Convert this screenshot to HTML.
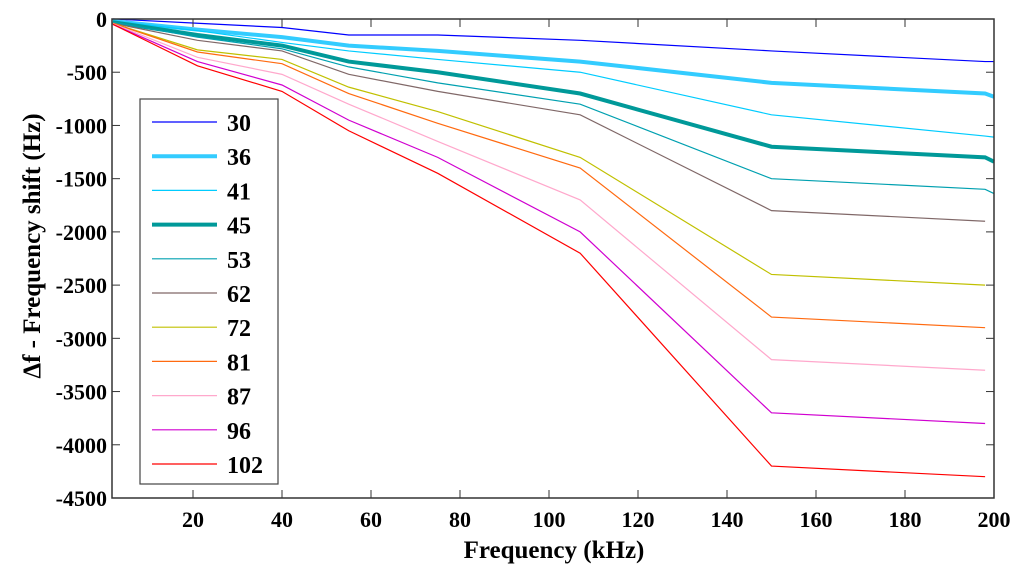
<!DOCTYPE html>
<html><head><meta charset="utf-8"><style>
body{margin:0;background:#fff;}
svg{font-family:"Liberation Serif",serif;font-weight:bold;}
</style></head><body>
<svg id="c" width="1024" height="575" viewBox="0 0 1024 575"></svg>
<script>
const freqs=[2,21,40,55,75,107,150,198,200];
const labels=["30","36","41","45","53","62","72","81","87","96","102"];
const s30=[0,-40,-80,-150,-150,-200,-300,-400,-400];
const s36=[-20,-100,-170,-250,-300,-400,-600,-700,-730];
const s41=[-20,-110,-220,-300,-380,-500,-900,-1100,-1110];
const s45=[-30,-150,-250,-400,-500,-700,-1200,-1300,-1340];
const s53=[-30,-170,-280,-450,-600,-800,-1500,-1600,-1640];
const s62=[-40,-200,-300,-520,-680,-900,-1800,-1900];
const s72=[-40,-290,-380,-640,-870,-1300,-2400,-2500];
const s81=[-40,-310,-420,-700,-980,-1400,-2800,-2900];
const s87=[-45,-360,-520,-800,-1150,-1700,-3200,-3300];
const s96=[-50,-400,-620,-950,-1300,-2000,-3700,-3800];
const s102=[-50,-440,-680,-1050,-1450,-2200,-4200,-4300];
const series=[s30,s36,s41,s45,s53,s62,s72,s81,s87,s96,s102];
const colors=["#0000ff","#33ccff","#00ccff","#009999","#00a0b0","#806868","#c0c000","#ff6a10","#ffa8cc","#d000d0","#ff0000"];
const widths=[1.2,4,1.2,4,1.2,1.2,1.2,1.2,1.2,1.2,1.2];
const xTicks=[20,40,60,80,100,120,140,160,180,200];
const yTicks=[0,-500,-1000,-1500,-2000,-2500,-3000,-3500,-4000,-4500];
const L=112,R=994,T=19,B=498,xmin=1.8,xmax=200,ymin=-4500,ymax=0;
const X=v=>L+(v-xmin)/(xmax-xmin)*(R-L);
const Y=v=>T+(ymax-v)/(ymax-ymin)*(B-T);
const svg=document.getElementById('c');const NS='http://www.w3.org/2000/svg';
function mk(t,a,p){const e=document.createElementNS(NS,t);for(const k in a)e.setAttribute(k,a[k]);(p||svg).appendChild(e);return e;}
series.forEach((s,i)=>{
 const p=mk('polyline',{points:s.map((v,j)=>X(freqs[j])+','+Y(v)).join(' '),fill:'none',stroke:colors[i],'stroke-width':widths[i]});
 
 
});
const ax=mk('rect',{x:L,y:T,width:R-L,height:B-T,fill:'none',stroke:'#333','stroke-width':1.5});


xTicks.forEach(v=>{
 mk('line',{x1:X(v),x2:X(v),y1:B,y2:B-8,stroke:'#333'});mk('line',{x1:X(v),x2:X(v),y1:T,y2:T+8,stroke:'#333'});
 const t=mk('text',{x:X(v),y:B+29,'text-anchor':'middle','font-size':22});t.textContent=v;
 
 
});
yTicks.forEach(v=>{
 mk('line',{x1:L,x2:L+8,y1:Y(v),y2:Y(v),stroke:'#333'});mk('line',{x1:R,x2:R-8,y1:Y(v),y2:Y(v),stroke:'#333'});
 const t=mk('text',{x:L-5,y:Y(v)+8,'text-anchor':'end','font-size':22});t.textContent=v;
 
 
});
const xt=mk('text',{x:554,y:558,'text-anchor':'middle','font-size':25});xt.textContent='Frequency (kHz)';


const yt=mk('text',{x:0,y:0,'text-anchor':'middle','font-size':25,transform:'translate(40,246) rotate(-90)'});yt.textContent='\u0394f - Frequency shift  (Hz)';


const g=mk('g',{});


mk('rect',{x:140,y:99,width:138,height:385,fill:'#fff',stroke:'#444','stroke-width':1.2},g);
labels.forEach((l,i)=>{
 const y=122+i*34.2;
 mk('line',{x1:152,x2:217,y1:y,y2:y,stroke:colors[i],'stroke-width':widths[i]},g);
 const t=mk('text',{x:227,y:y+9,'font-size':24},g);t.textContent=l;
 
 
});
</script>
</body></html>
